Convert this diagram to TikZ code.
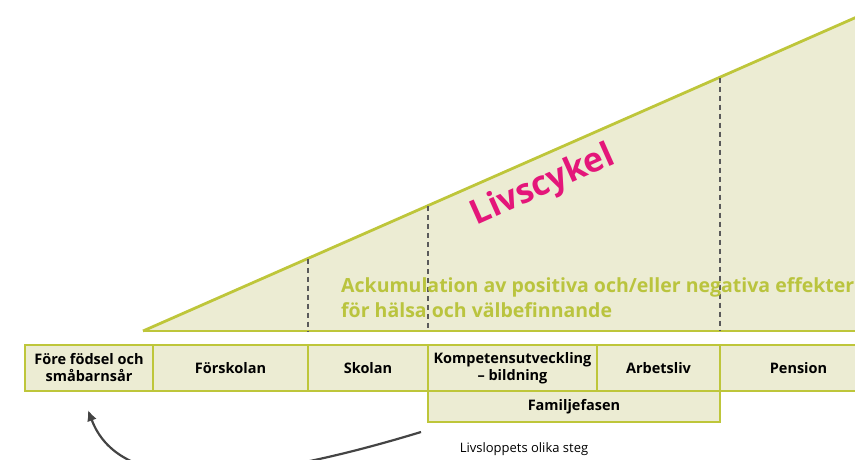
\documentclass[tikz,border=0pt]{standalone}
\usepackage{fontspec}
\setmainfont{Open Sans}
\usetikzlibrary{calc,arrows.meta}

\begin{document}
\begin{tikzpicture}[x=1pt, y=-1pt,
				cell/.style={rectangle, align=center, draw=lineolive, fill=pale, line width=1.5pt, inner sep=0pt, minimum height=46pt, font=\fontsize{14.5}{17}\selectfont\bfseries},
				famcell/.style={cell, minimum height=31pt},
				divider/.style={draw=divgray, line width=1.3pt, dash pattern=on 5pt off 4pt},
				slope/.style={draw=lineolive, line width=2.8pt},
				loop/.style={-{Latex[length=11pt, width=10pt]}, draw=arrowgray, line width=2.2pt}]

					\definecolor{lineolive}{RGB}{190,198,58}
					\definecolor{textolive}{RGB}{186,196,62}
					\definecolor{pale}{RGB}{236,236,211}
					\definecolor{divgray}{RGB}{90,90,90}
					\definecolor{arrowgray}{RGB}{68,68,68}
					\definecolor{magenta}{RGB}{228,22,122}

					\useasboundingbox (0,0) rectangle (855,459);

					% the wedge
					\coordinate (tip) at (143,331);
					\coordinate (far) at (900,-2);
					\coordinate (farbase) at (900,331);
					\fill[pale] (tip) -- (far) -- (farbase) -- cycle;
					\draw[slope] (tip) -- (far);
					\draw[slope] (tip) -- (farbase);

					\coordinate (d1top) at (308,258.6);
					\coordinate (d1bot) at (308,331);
					\coordinate (d2top) at (428,205.8);
					\coordinate (d2bot) at (428,331);
					\coordinate (d3top) at (720,77.5);
					\coordinate (d3bot) at (720,331);
					\draw[divider] (d1top) -- (d1bot);
					\draw[divider] (d2top) -- (d2bot);
					\draw[divider] (d3top) -- (d3bot);

					\node[rotate=24, text=magenta, font=\fontsize{34}{34}\selectfont\bfseries] (cycle) at (543,186) {Livscykel};
					\node[anchor=north west, inner sep=0pt, align=left, text=textolive, font=\fontsize{19.5}{25}\selectfont\bfseries] (accum) at (341,277) {Ackumulation av positiva och/eller negativa effekter\\för hälsa och välbefinnande};

					% the stages
					\node[cell, minimum width=128pt] (birth) at (89,368) {Före födsel och\\småbarnsår};
					\node[cell, minimum width=155pt] (preschool) at (230.5,368) {Förskolan};
					\node[cell, minimum width=120pt] (school) at (368,368) {Skolan};
					\node[cell, minimum width=169pt] (skills) at (512.5,368) {Kompetensutveckling\\– bildning};
					\node[cell, minimum width=123pt] (work) at (658.5,368) {Arbetsliv};
					\node[cell, minimum width=157pt] (pension) at (798.5,368) {Pension};
					\node[famcell, minimum width=292pt] (family) at (574,406.5) {Familjefasen};

					\node[font=\fontsize{13}{14}\selectfont] (steps) at (524,449) {Livsloppets olika steg};

					\coordinate (loopstart) at (421,432);
					\coordinate (loopend) at (88,410);
					\draw[loop] (loopstart) .. controls (230,490) and (118,490) .. (loopend);
				\end{tikzpicture}
\end{document}
